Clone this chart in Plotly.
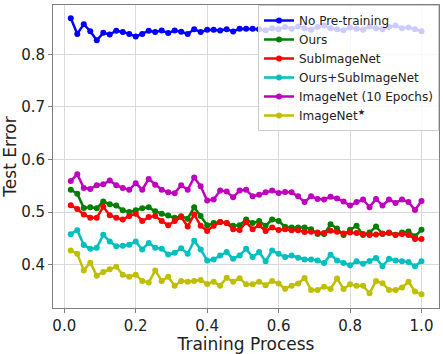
import plotly.graph_objects as go

# Training progress fractions (55 evaluation points)
steps = [i / 55 for i in range(1, 56)]

no_pretrain = [0.869, 0.839, 0.8575, 0.844, 0.827, 0.841, 0.838, 0.845, 0.8425, 0.839,
               0.834, 0.839, 0.845, 0.8425, 0.8456, 0.8406, 0.8456, 0.843, 0.839, 0.848,
               0.8425, 0.8469, 0.8469, 0.8456, 0.848, 0.8438, 0.8488, 0.8488, 0.849, 0.848,
               0.846, 0.850, 0.848, 0.852, 0.849, 0.853, 0.850, 0.847, 0.852, 0.855,
               0.850, 0.848, 0.846, 0.851, 0.849, 0.847, 0.853, 0.850, 0.848, 0.852,
               0.855, 0.850, 0.851, 0.848, 0.844]
ours = [0.5425, 0.535, 0.508, 0.509, 0.5075, 0.520, 0.515, 0.5125, 0.5035, 0.500,
        0.5035, 0.5075, 0.509, 0.5015, 0.497, 0.4935, 0.489, 0.492, 0.4875, 0.509,
        0.4925, 0.475, 0.479, 0.481, 0.479, 0.474, 0.475, 0.486, 0.479, 0.483,
        0.474, 0.486, 0.483, 0.472, 0.4706, 0.4706, 0.4706, 0.4675, 0.4581, 0.4581,
        0.4769, 0.4688, 0.4563, 0.4663, 0.4738, 0.4563, 0.4613, 0.4725, 0.4581, 0.4613,
        0.4569, 0.4613, 0.4631, 0.4538, 0.4663]
sub_imagenet = [0.513, 0.506, 0.4955, 0.489, 0.489, 0.510, 0.494, 0.489, 0.486, 0.4925,
                0.497, 0.483, 0.4905, 0.4925, 0.483, 0.475, 0.483, 0.4905, 0.4725, 0.4956,
                0.474, 0.464, 0.474, 0.481, 0.479, 0.4675, 0.466, 0.481, 0.4675, 0.475,
                0.464, 0.4706, 0.466, 0.4675, 0.4656, 0.4656, 0.462, 0.4625, 0.4613, 0.460,
                0.4644, 0.4625, 0.4594, 0.4613, 0.460, 0.4581, 0.4563, 0.4575, 0.4594, 0.460,
                0.4563, 0.4581, 0.4563, 0.4488, 0.4488]
ours_sub = [0.458, 0.4656, 0.4375, 0.430, 0.432, 0.457, 0.4438, 0.435, 0.436, 0.438,
            0.4438, 0.4288, 0.4413, 0.432, 0.430, 0.4194, 0.4225, 0.431, 0.4206, 0.4456,
            0.4288, 0.408, 0.410, 0.4175, 0.424, 0.411, 0.4175, 0.430, 0.4144, 0.424,
            0.4063, 0.4269, 0.4206, 0.4144, 0.4175, 0.4131, 0.410, 0.410, 0.408, 0.403,
            0.419, 0.408, 0.403, 0.3988, 0.4063, 0.4019, 0.4069, 0.4125, 0.3969, 0.4113,
            0.4081, 0.4063, 0.405, 0.3969, 0.4063]
imagenet_10 = [0.559, 0.572, 0.546, 0.544, 0.551, 0.553, 0.560, 0.551, 0.546, 0.5425,
               0.555, 0.5425, 0.563, 0.552, 0.5425, 0.5375, 0.536, 0.551, 0.5425, 0.566,
               0.549, 0.522, 0.524, 0.541, 0.539, 0.528, 0.541, 0.5425, 0.530, 0.533,
               0.5375, 0.541, 0.5365, 0.538, 0.5375, 0.530, 0.519, 0.530, 0.525, 0.524,
               0.529, 0.526, 0.520, 0.5125, 0.519, 0.524, 0.5094, 0.525, 0.5125, 0.524,
               0.5175, 0.524, 0.519, 0.504, 0.521]
imagenet_star = [0.4269, 0.4206, 0.389, 0.4038, 0.379, 0.386, 0.391, 0.396, 0.381, 0.377,
                 0.381, 0.369, 0.366, 0.389, 0.369, 0.377, 0.360, 0.369, 0.3675, 0.369,
                 0.371, 0.363, 0.3675, 0.360, 0.375, 0.3675, 0.374, 0.3625, 0.3625, 0.3675,
                 0.361, 0.369, 0.364, 0.354, 0.360, 0.364, 0.3747, 0.3519, 0.3519, 0.3581,
                 0.3538, 0.3738, 0.3538, 0.3625, 0.360, 0.360, 0.3456, 0.3688, 0.3644, 0.3519,
                 0.3519, 0.3563, 0.3675, 0.3488, 0.3438]

series = [
    ("No Pre-training", no_pretrain, "#0000ff"),
    ("Ours", ours, "#008000"),
    ("SubImageNet", sub_imagenet, "#ff0000"),
    ("Ours+SubImageNet", ours_sub, "#00bfbf"),
    ("ImageNet (10 Epochs)", imagenet_10, "#bf00bf"),
    ("ImageNet<sup>★</sup>", imagenet_star, "#bfbf00"),
]

fig = go.Figure()
for name, vals, col in series:
    fig.add_trace(go.Scatter(x=steps, y=vals, name=name, mode="lines+markers",
                             line=dict(color=col, width=2.5),
                             marker=dict(color=col, size=6)))

axis_style = dict(showline=True, mirror=True, linecolor="#7f7f7f", linewidth=1,
                  ticks="outside", ticklen=4, tickcolor="#7f7f7f",
                  showgrid=True, gridcolor="#d9d9d9", gridwidth=1, zeroline=False,
                  tickfont=dict(size=15, color="#222"))

fig.update_xaxes(range=[-0.0316, 1.049], tickvals=[0, 0.2, 0.4, 0.6, 0.8, 1.0],
                 ticktext=["0.0", "0.2", "0.4", "0.6", "0.8", "1.0"],
                 title=dict(text="Training Process", font=dict(size=17, color="#222"), standoff=4),
                 **axis_style)
fig.update_yaxes(range=[0.3175, 0.894], tickvals=[0.4, 0.5, 0.6, 0.7, 0.8],
                 ticktext=["0.4", "0.5", "0.6", "0.7", "0.8"],
                 title=dict(text="Test Error", font=dict(size=17, color="#222"), standoff=6),
                 **axis_style)

fig.update_layout(
    width=443, height=354,
    margin=dict(l=53, r=3, t=5, b=42),
    plot_bgcolor="white", paper_bgcolor="white",
    font=dict(family="DejaVu Sans", color="#222"),
    legend=dict(x=1, xanchor="right", y=1, yanchor="top",
                bgcolor="rgba(255,255,255,0.8)", bordercolor="#cccccc", borderwidth=1,
                font=dict(size=12), itemwidth=30, tracegroupgap=0),
)

# drop the page's default body margin so the figure sits at the window origin
fig.write_html("out.html", config={"displayModeBar": False},
               post_script="document.body.style.margin='0';")
